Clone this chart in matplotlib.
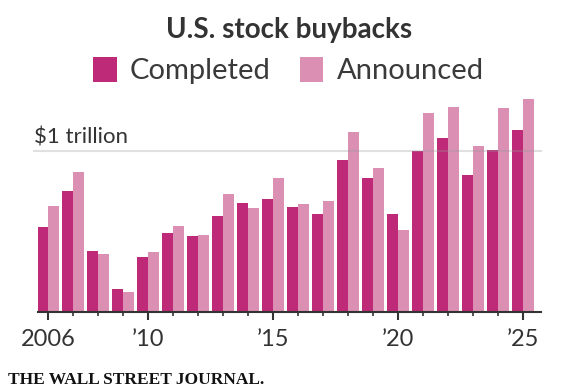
import matplotlib
matplotlib.use("Agg")
import matplotlib.pyplot as plt
from matplotlib.patches import Rectangle
from matplotlib.ticker import FixedLocator

# U.S. stock buybacks, trillions of dollars
years = list(range(2006, 2026))
completed = [0.528, 0.751, 0.377, 0.144, 0.340, 0.493, 0.470, 0.598, 0.678, 0.699,
             0.652, 0.610, 0.941, 0.833, 0.606, 0.996, 1.077, 0.851, 1.002, 1.126]
announced = [0.656, 0.866, 0.359, 0.124, 0.371, 0.532, 0.476, 0.730, 0.644, 0.833,
             0.670, 0.687, 1.114, 0.895, 0.507, 1.233, 1.270, 1.029, 1.266, 1.320]
major_years = [2006, 2010, 2015, 2020, 2025]
major_labels = ["2006", "\u201910", "\u201915", "\u201920", "\u201925"]

C_COMPLETED = "#be2a77"
C_ANNOUNCED = "#da8fb3"
TEXT = "#333333"
FONT = "Lato"

W, H = 570, 391
fig = plt.figure(figsize=(W / 100, H / 100), dpi=100)
fig.patch.set_facecolor("white")

# axes box in pixel terms: left 38, right 541, baseline 312.3
ax = fig.add_axes([38 / W, 1 - 312.3 / H, 503 / W, (312.3 - 86.1) / H])

bw = 0.44
ax.bar([y - bw / 2 for y in years], completed, width=bw, color=C_COMPLETED, zorder=2)
ax.bar([y + bw / 2 for y in years], announced, width=bw, color=C_ANNOUNCED, zorder=2)

ax.set_xlim(2005.6, 2025.72)
ax.set_ylim(0, 1.4)

# $1 trillion reference line
ax.axhline(1.0, xmin=-0.008, xmax=1, color="#999999", alpha=0.3, lw=1.5,
           zorder=3, clip_on=False)
fig.text(34 / W, 1 - 144 / H, "$1 trillion", fontsize=16, color=TEXT,
         family=FONT, va="baseline", ha="left")

for side in ["left", "right", "top"]:
    ax.spines[side].set_visible(False)
ax.spines["bottom"].set_color(TEXT)
ax.spines["bottom"].set_linewidth(1.5)
ax.spines["bottom"].set_zorder(4)
ax.set_yticks([])

ax.xaxis.set_major_locator(FixedLocator(major_years))
ax.xaxis.set_minor_locator(FixedLocator([y for y in years if y not in major_years]))
ax.set_xticklabels(major_labels, fontsize=17, color=TEXT, family=FONT)
ax.tick_params(axis="x", which="major", length=6, width=1.5, color=TEXT, pad=6)
ax.tick_params(axis="x", which="minor", length=3, width=1.2, color=TEXT)

# title
fig.text(289 / W, 1 - 38.3 / H, "U.S. stock buybacks", fontsize=20, fontweight="bold",
         color=TEXT, family=FONT, ha="center", va="baseline")

# legend
for x0, x_txt, col, lab in [(93.3, 130, C_COMPLETED, "Completed"),
                            (300, 336.7, C_ANNOUNCED, "Announced")]:
    fig.patches.append(Rectangle((x0 / W, 1 - 81.7 / H), 23.4 / W, 24.4 / H,
                                 transform=fig.transFigure, facecolor=col,
                                 edgecolor="none", figure=fig))
    fig.text(x_txt / W, 1 - 79.3 / H, lab, fontsize=21, color="#3a3a3a", family=FONT,
             ha="left", va="baseline")

# source logo
fig.text(8 / W, 1 - 384 / H, "THE WALL STREET JOURNAL.", fontsize=12.5,
         family="Liberation Serif", fontweight="bold", color="#111111",
         ha="left", va="baseline")

fig.savefig("out.png", dpi=100)
